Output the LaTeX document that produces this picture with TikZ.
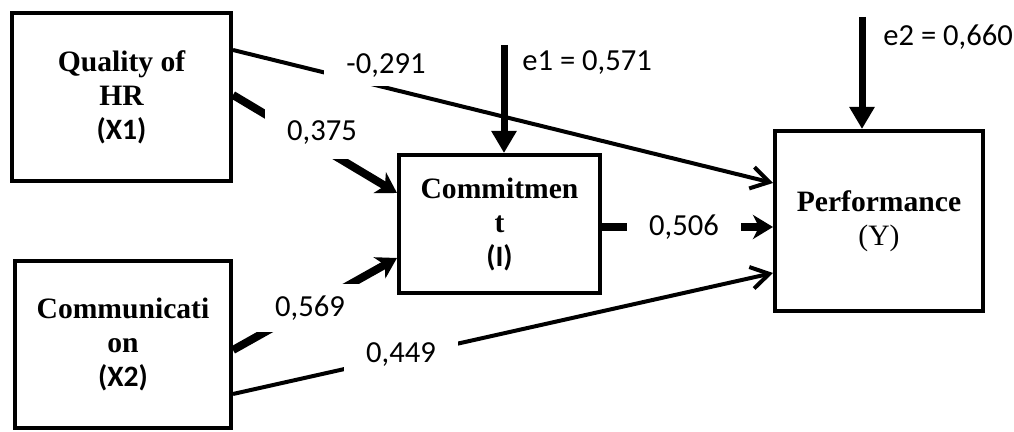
\documentclass[tikz,border=0pt]{standalone}
\usepackage{fontspec}
\setmainfont{Liberation Serif}
\newfontfamily\lblfont{Carlito}
\usetikzlibrary{arrows.meta}
\tikzset{
  box/.style={draw, line width=2pt, align=center, inner sep=0pt,
    font=\fontsize{14.8}{17}\selectfont},
  thinarrow/.style={line width=2pt, -{Straight Barb[length=9pt,width=11pt]}},
  thickarrow/.style={line width=4pt, -{Stealth[length=10pt,width=12pt,inset=3pt]}},
  errarrow/.style={line width=3.5pt, -{Triangle[length=11pt,width=12pt]}},
  coef/.style={fill=white, inner xsep=11pt, inner ysep=4pt, font=\lblfont\fontsize{15.3}{18}\selectfont},
  errlbl/.style={inner sep=0pt, anchor=west, font=\lblfont\fontsize{15.3}{18}\selectfont}
}
\begin{document}
\begin{tikzpicture}[x=0.5pt,y=-0.5pt]
\useasboundingbox (0,0) rectangle (1014,432);
% boxes
\node[box, minimum width=109.5pt, minimum height=84pt] (x1) at (121.5,97)
  {\bfseries Quality of\\ \bfseries HR\\ {\lblfont\bfseries (X1)}};
\node[box, minimum width=108pt, minimum height=83.5pt] (x2) at (123,344.5)
  {\bfseries Communicati\\ \bfseries on\\ {\lblfont\bfseries (X2)}};
\node[box, minimum width=100.5pt, minimum height=69pt] (i) at (499.5,224)
  {\bfseries Commitmen\\ \bfseries t\\ {\lblfont\bfseries (I)}};
\node[box, minimum width=104pt, minimum height=90pt] (y) at (879,221)
  {\bfseries Performance\\ (Y)};
% connectors
\draw[thinarrow] ([yshift=23.5pt]x1.east) -- ([yshift=19pt]y.west);
\draw[thickarrow] ([yshift=1pt]x1.east) -- ([yshift=15.5pt]i.west);
\draw[thickarrow] ([yshift=-2.75pt]x2.east) -- ([yshift=-17pt]i.west);
\draw[thinarrow] ([yshift=-24.75pt]x2.east) -- ([yshift=-26pt]y.west);
\path ([yshift=-1.5pt]i.east) coordinate (ie);
\draw[thickarrow] (ie) -- (ie -| y.west);
% error terms
\coordinate (e1) at (504,45);
\coordinate (e2) at (862,17);
\draw[errarrow] (e1) -- (e1 |- i.north);
\draw[errarrow] (e2) -- (e2 |- y.north);
\node[errlbl] (e1l) at (522,63) {e1 = 0,571};
\node[errlbl] (e2l) at (883,37) {e2 = 0,660};
% coefficients
\node[coef, inner ysep=4pt] (c1) at (386,66) {-0,291};
\node[coef, inner ysep=7pt] (c2) at (322,133) {0,375};
\node[coef, inner ysep=6pt] (c3) at (310,308) {0,569};
\node[coef] (c4) at (401,355) {0,449};
\node[coef] (c5) at (684,227) {0,506};
\end{tikzpicture}
\end{document}
